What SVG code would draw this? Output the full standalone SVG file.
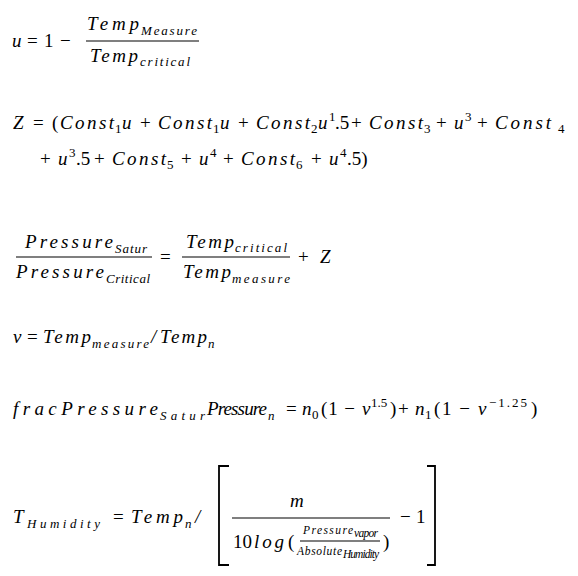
<svg xmlns="http://www.w3.org/2000/svg" width="578" height="576" viewBox="0 0 578 576">
<style>
.i { font-style: italic; }
.s { font-size: 13px; }
.ss { font-size: 11.5px; }
.bar { stroke: #000; stroke-width: 1.1; fill: none; }
.br { stroke: #000; stroke-width: 1.8; fill: none; }
</style>
<rect width="578" height="576" fill="#fff"/>

<g id="eq1" font-family="Liberation Serif" font-size="19" fill="#000">
<text class="i" x="12" y="47">u</text>
<text x="27" y="47">=</text>
<text x="44" y="47">1</text>
<text x="60" y="47">−</text>
<text class="i" x="87" y="30" textLength="52" lengthAdjust="spacing">Temp</text>
<text class="i s" x="141" y="35" textLength="56" lengthAdjust="spacing">Measure</text>
<line class="bar" x1="86" y1="41" x2="199" y2="41"/>
<text class="i" x="90" y="62" textLength="48" lengthAdjust="spacing">Temp</text>
<text class="i s" x="140" y="66" textLength="50" lengthAdjust="spacing">critical</text>
</g>

<g id="eq2" font-family="Liberation Serif" font-size="19" fill="#000">
<text class="i" x="13" y="129">Z</text>
<text x="33" y="129">=</text>
<text x="52" y="129">(</text>
<text class="i" x="60" y="129" textLength="54" lengthAdjust="spacing">Const</text>
<text class="s" x="115" y="133">1</text>
<text class="i" x="122" y="129">u</text>
<text x="140" y="129">+</text>
<text class="i" x="158" y="129" textLength="54" lengthAdjust="spacing">Const</text>
<text class="s" x="213" y="133">1</text>
<text class="i" x="220" y="129">u</text>
<text x="238" y="129">+</text>
<text class="i" x="256" y="129" textLength="54" lengthAdjust="spacing">Const</text>
<text class="s" x="311" y="133">2</text>
<text class="i" x="318" y="129">u</text>
<text class="s" x="329" y="121">1</text>
<text x="335" y="129">.5</text>
<text x="351" y="129">+</text>
<text class="i" x="369" y="129" textLength="54" lengthAdjust="spacing">Const</text>
<text class="s" x="424" y="133">3</text>
<text x="436" y="129">+</text>
<text class="i" x="454" y="129">u</text>
<text class="s" x="465" y="121">3</text>
<text x="477" y="129">+</text>
<text class="i" x="495" y="129" textLength="56" lengthAdjust="spacing">Const</text>
<text class="s" x="558" y="133">4</text>

<text x="40" y="165">+</text>
<text class="i" x="58" y="165">u</text>
<text class="s" x="69" y="157">3</text>
<text x="76" y="165">.5</text>
<text x="94" y="165">+</text>
<text class="i" x="112" y="165" textLength="54" lengthAdjust="spacing">Const</text>
<text class="s" x="167" y="169">5</text>
<text x="181" y="165">+</text>
<text class="i" x="199" y="165">u</text>
<text class="s" x="210" y="157">4</text>
<text x="223" y="165">+</text>
<text class="i" x="241" y="165" textLength="54" lengthAdjust="spacing">Const</text>
<text class="s" x="296" y="169">6</text>
<text x="311" y="165">+</text>
<text class="i" x="329" y="165">u</text>
<text class="s" x="340" y="157">4</text>
<text x="347" y="165">.5)</text>
</g>

<g id="eq3" font-family="Liberation Serif" font-size="19" fill="#000">
<text class="i" x="25" y="248" textLength="88" lengthAdjust="spacing">Pressure</text>
<text class="i s" x="115" y="253" textLength="32" lengthAdjust="spacing">Satur</text>
<line class="bar" x1="16" y1="257" x2="152" y2="257"/>
<text class="i" x="16" y="278" textLength="88" lengthAdjust="spacing">Pressure</text>
<text class="i s" x="106" y="283" textLength="44" lengthAdjust="spacing">Critical</text>
<text x="160" y="263">=</text>
<text class="i" x="186" y="248" textLength="48" lengthAdjust="spacing">Temp</text>
<text class="i s" x="235" y="252" textLength="52" lengthAdjust="spacing">critical</text>
<line class="bar" x1="182" y1="257" x2="290" y2="257"/>
<text class="i" x="183" y="278" textLength="48" lengthAdjust="spacing">Temp</text>
<text class="i s" x="232" y="283" textLength="58" lengthAdjust="spacing">measure</text>
<text x="298" y="263">+</text>
<text class="i" x="320" y="263">Z</text>
</g>

<g id="eq4" font-family="Liberation Serif" font-size="19" fill="#000">
<text class="i" x="13" y="343">v</text>
<text x="27" y="343">=</text>
<text class="i" x="43" y="343" textLength="48" lengthAdjust="spacing">Temp</text>
<text class="i s" x="92" y="348" textLength="57" lengthAdjust="spacing">measure</text>
<text class="i" x="151" y="343">/</text>
<text class="i" x="160" y="343" textLength="47" lengthAdjust="spacing">Temp</text>
<text class="i s" x="208" y="348">n</text>
</g>

<g id="eq5" font-family="Liberation Serif" font-size="19" fill="#000">
<text class="i" x="13" y="415" textLength="145" lengthAdjust="spacing">fracPressure</text>
<text class="i s" x="160" y="420" textLength="45" lengthAdjust="spacing">Satur</text>
<text class="i" x="207" y="415" textLength="60" lengthAdjust="spacing">Pressure</text>
<text class="i s" x="268" y="420">n</text>
<text x="286" y="415">=</text>
<text class="i" x="302" y="415">n</text>
<text class="s" x="312" y="419">0</text>
<text x="321" y="415" textLength="34" lengthAdjust="spacing">(1 −</text>
<text class="i" x="362" y="415">v</text>
<text class="s" x="371" y="407">1.5</text>
<text x="390" y="415">)</text>
<text x="398" y="415">+</text>
<text class="i" x="415" y="415">n</text>
<text class="s" x="425" y="419">1</text>
<text x="434" y="415" textLength="36" lengthAdjust="spacing">(1 −</text>
<text class="i" x="478" y="415">v</text>
<text class="s" x="489" y="407" textLength="38" lengthAdjust="spacing">−1.25</text>
<text x="531" y="415">)</text>
</g>

<g id="eq6" font-family="Liberation Serif" font-size="19" fill="#000">
<text class="i" x="13" y="523">T</text>
<text class="i s" x="27" y="528" textLength="73" lengthAdjust="spacing">Humidity</text>
<text x="113" y="523">=</text>
<text class="i" x="131" y="523" textLength="52" lengthAdjust="spacing">Temp</text>
<text class="i s" x="185" y="528">n</text>
<text class="i" x="195" y="523">/</text>
<path class="br" d="M229 466 H219 V565 H229"/>
<text class="i" x="290" y="507">m</text>
<line class="bar" x1="232" y1="518" x2="390" y2="518"/>
<text x="233" y="548">10</text>
<text class="i" x="254" y="548" textLength="30" lengthAdjust="spacing">log</text>
<text x="288" y="548">(</text>
<text class="i ss" x="303" y="534" textLength="50" lengthAdjust="spacing">Pressure</text>
<text class="i ss" x="354" y="537" textLength="24" lengthAdjust="spacing">vapor</text>
<line class="bar" x1="300" y1="541" x2="380" y2="541"/>
<text class="i ss" x="297" y="555" textLength="45" lengthAdjust="spacing">Absolute</text>
<text class="i ss" x="343" y="558" textLength="36" lengthAdjust="spacing">Humidity</text>
<text x="383" y="548">)</text>
<text x="400" y="523">−</text>
<text x="416" y="523">1</text>
<path class="br" d="M427 466 H435 V565 H427"/>
</g>
</svg>
